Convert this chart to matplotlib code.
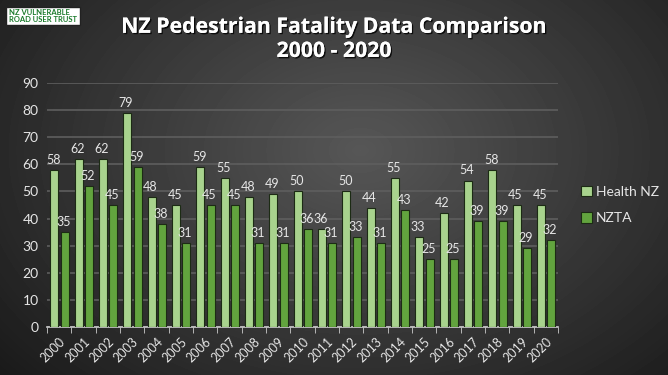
import numpy as np
import matplotlib.pyplot as plt
import matplotlib.patheffects as pe

years = [str(y) for y in range(2000, 2021)]
health_nz = [58, 62, 62, 79, 48, 45, 59, 55, 48, 49, 50, 36, 50, 44, 55, 33, 42, 54, 58, 45, 45]
nzta = [35, 52, 45, 59, 38, 31, 45, 45, 31, 31, 36, 31, 33, 31, 43, 25, 25, 39, 39, 29, 32]

plt.rcParams['font.family'] = ['Lato', 'DejaVu Sans']
txt = '#e6e6e6'

fig = plt.figure(figsize=(6.68, 3.75), dpi=100)

# radial grey background
bg = fig.add_axes([0, 0, 1, 1])
yy, xx = np.mgrid[0:375, 0:668]
r = np.sqrt(((xx - 360) / 420.0) ** 2 + ((yy - 150) / 300.0) ** 2)
shade = np.clip(0.34 - 0.21 * r, 0.09, 0.34)
bg.imshow(shade, cmap='gray', vmin=0, vmax=1, aspect='auto', extent=[0, 668, 375, 0])
bg.set_xlim(0, 668)
bg.set_ylim(375, 0)
bg.axis('off')

# logo
bg.text(9, 16, 'NZ VULNERABLE\nROAD USER TRUST', fontsize=5.5, fontweight='bold',
        color='#1a7a2a', va='center', ha='left', linespacing=0.9,
        bbox=dict(boxstyle='square,pad=0.35', fc='white', ec='#222222', lw=1))

ax = fig.add_axes([0.0704, 0.128, 0.765, 0.651])
ax.set_facecolor('none')

x = np.arange(len(years))
w = 0.33
b1 = ax.bar(x - 0.035 - w / 2, health_nz, w, color='#a8d38d', edgecolor='#1c2b14', lw=0.8,
            label='Health NZ', zorder=3)
b2 = ax.bar(x + 0.06 + w / 2, nzta, w, color='#62a43e', edgecolor='#1c2b14', lw=0.8,
            label='NZTA', zorder=3)

for rect, v in zip(b1, health_nz):
    ax.text(rect.get_x() + rect.get_width() / 2 - 0.05, v + 1.5, str(v), ha='center', va='bottom',
            color=txt, fontsize=9, zorder=5)
for rect, v in zip(b2, nzta):
    ax.text(rect.get_x() + rect.get_width() / 2 - 0.05, v + 1.5, str(v), ha='center', va='bottom',
            color=txt, fontsize=9, zorder=5)

ax.set_xlim(-0.5, len(years) - 0.5)
ax.set_ylim(0, 90)
ax.set_yticks(range(0, 91, 10))
ax.yaxis.grid(True, color='#5e5e5e', lw=1.2, zorder=0)
ax.set_axisbelow(True)

ax.set_xticks(x)
ax.set_xticklabels(years, rotation=45, ha='right', rotation_mode='anchor', color=txt, fontsize=9)
ax.set_xticks(np.arange(-0.5, len(years), 1), minor=True)
ax.tick_params(axis='x', which='major', length=0, pad=6)
ax.tick_params(axis='x', which='minor', length=4, color='#cccccc', direction='out')
ax.tick_params(axis='y', length=0, labelcolor=txt, labelsize=10, pad=6)

for s in ['top', 'right', 'left']:
    ax.spines[s].set_visible(False)
ax.spines['bottom'].set_color('#cccccc')
ax.spines['bottom'].set_linewidth(1.2)

leg = ax.legend(loc='center left', bbox_to_anchor=(1.02, 0.5), frameon=False,
                fontsize=10, labelcolor=txt, handlelength=0.8, handleheight=0.8,
                handletextpad=0.3, labelspacing=1.0)

fig.text(0.5, 0.895, 'NZ Pedestrian Fatality Data Comparison\n2000 - 2020', ha='center', va='center',
         color='white', fontsize=15.3, fontweight='bold', linespacing=1.2, family='Open Sans',
         path_effects=[pe.withSimplePatchShadow(offset=(1, -1), shadow_rgbFace='black', alpha=0.8),
                       pe.Normal()])

fig.savefig('out.png', dpi=100)
